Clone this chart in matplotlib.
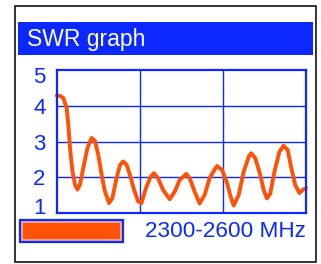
import matplotlib
matplotlib.use('Agg')
import matplotlib.pyplot as plt
import matplotlib.transforms as mtransforms
from matplotlib.patches import Rectangle

plt.rcParams['font.family'] = ['Liberation Sans', 'DejaVu Sans']

# SWR sweep
freq_mhz = [2300, 2304, 2308, 2312, 2314, 2316, 2319, 2322, 2325, 2328, 2332,
            2337, 2342, 2346, 2350, 2354, 2358, 2363, 2367, 2372, 2376, 2380,
            2384, 2388, 2393, 2398, 2402, 2408, 2413, 2417, 2422, 2428, 2436,
            2442, 2448, 2456, 2460, 2466, 2472, 2478, 2484, 2491, 2493, 2499,
            2505, 2509, 2513, 2519, 2525, 2531, 2534, 2539, 2545, 2549, 2553,
            2557, 2562, 2568, 2573, 2578, 2582, 2587, 2592, 2596, 2600]
swr = [4.29, 4.28, 4.22, 3.94, 3.47, 2.82, 2.16, 1.79, 1.65, 1.79, 2.26,
       2.82, 3.10, 3.02, 2.63, 2.07, 1.60, 1.27, 1.41, 1.97, 2.33, 2.44,
       2.35, 2.07, 1.65, 1.32, 1.27, 1.73, 2.01, 2.11, 1.97, 1.64, 1.38,
       1.59, 1.92, 2.09, 1.97, 1.59, 1.26, 1.50, 1.97, 2.25, 2.31, 2.20,
       1.83, 1.48, 1.20, 1.50, 2.15, 2.57, 2.67, 2.53, 2.06, 1.64, 1.40,
       1.54, 2.15, 2.71, 2.88, 2.76, 2.29, 1.78, 1.55, 1.64, 1.69]
y_ticks = [1, 2, 3, 4, 5]
x_grid = [2400, 2500]
title = 'SWR graph'
band_label = '2300-2600 MHz'

BLUE = '#0a28ff'
ORANGE = '#ff5206'

W, H = 321, 264
fig = plt.figure(figsize=(W / 100, H / 100), dpi=100)

def fx(px):
    return px / W

def fy(py):
    return 1 - py / H

# outer black frame
fig.patches.append(Rectangle((fx(14.7), fy(261.7)), fx(316) - fx(14.7), fy(6) - fy(261.7),
                             transform=fig.transFigure, fill=False, edgecolor='black', lw=1.1))
# title bar
fig.patches.append(Rectangle((fx(18), fy(55.3)), fx(312.7) - fx(18), fy(22) - fy(55.3),
                             transform=fig.transFigure, facecolor=BLUE, edgecolor='none'))
fig.text(fx(27), fy(39.5), title, color='white', fontsize=16.5, ha='left', va='center')

ax = fig.add_axes([fx(56.7), fy(212.7), fx(306) - fx(56.7), fy(70.3) - fy(212.7)])
ax.set_xlim(freq_mhz[0], freq_mhz[-1])
ax.set_ylim(y_ticks[0], y_ticks[-1])
for y in y_ticks[1:-1]:
    ax.axhline(y, color=BLUE, lw=1, zorder=1)
for x in x_grid:
    ax.axvline(x, color=BLUE, lw=1, zorder=1)
ax.plot(freq_mhz, swr, color=ORANGE, lw=2.8, solid_joinstyle='round',
        solid_capstyle='round', zorder=3, clip_on=False)

for s in ax.spines.values():
    s.set_color(BLUE)
    s.set_linewidth(1.6)
    s.set_zorder(4)
ax.set_xticks([])
ax.set_yticks(y_ticks)
ax.set_yticklabels([str(v) for v in y_ticks])
ax.tick_params(axis='y', length=0, pad=8, labelsize=16, labelcolor=BLUE)
labels = ax.get_yticklabels()
labels[0].set_transform(labels[0].get_transform() +
                        mtransforms.ScaledTranslation(0, 7 / 100, fig.dpi_scale_trans))
labels[-1].set_transform(labels[-1].get_transform() +
                         mtransforms.ScaledTranslation(0, -5 / 100, fig.dpi_scale_trans))

# legend swatch
fig.patches.append(Rectangle((fx(20.5), fy(242)), fx(123) - fx(20.5), fy(220.3) - fy(242),
                             transform=fig.transFigure, facecolor='#f2a890', edgecolor=BLUE, lw=1.6))
fig.patches.append(Rectangle((fx(23.5), fy(239.3)), fx(120) - fx(23.5), fy(223) - fy(239.3),
                             transform=fig.transFigure, facecolor=ORANGE, edgecolor='none'))
fig.text(fx(306), fy(231.7), band_label, color=BLUE, fontsize=16.2, ha='right', va='center')

fig.savefig('out.png', dpi=100)
